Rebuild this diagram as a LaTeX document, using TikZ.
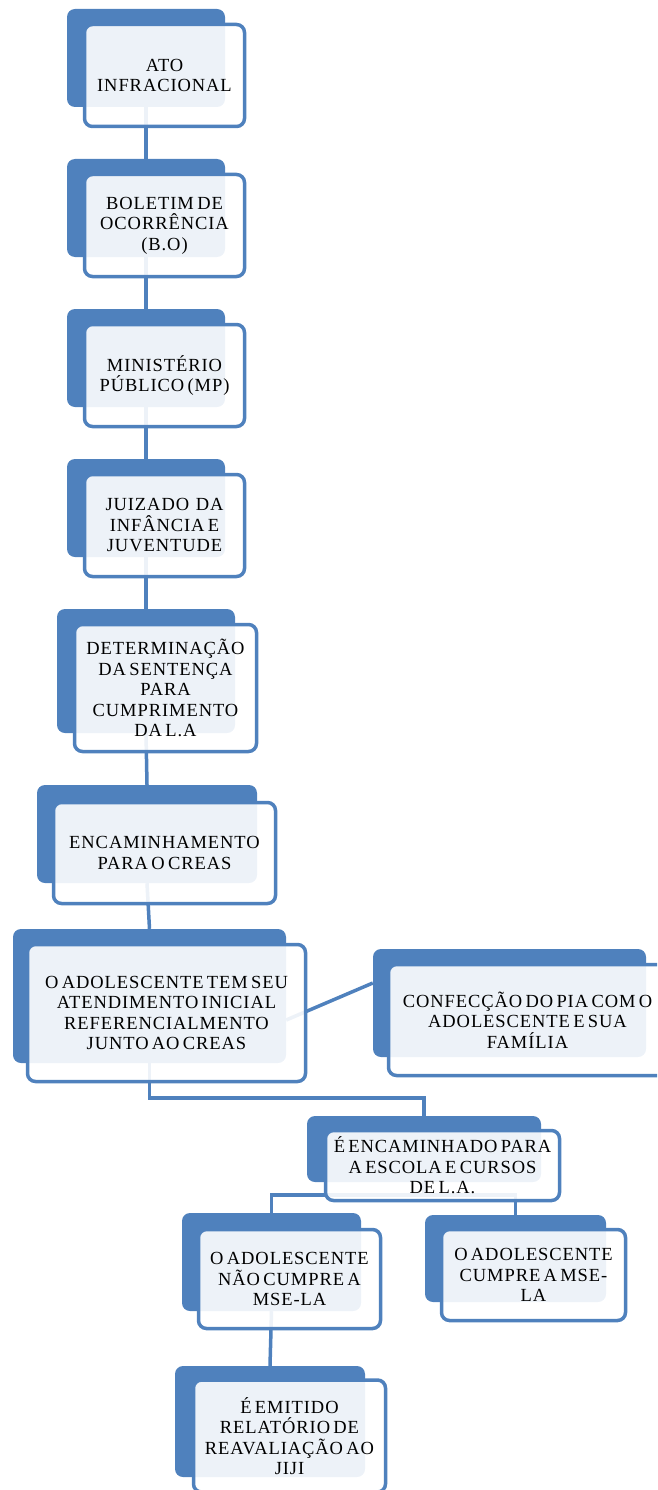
\documentclass[tikz,border=0pt]{standalone}
\usepackage{fontspec}
\setmainfont{Liberation Serif}[LetterSpace=5,WordSpace=0.6]
\usepackage{tikz}
\usetikzlibrary{positioning}
\definecolor{smartblue}{HTML}{4F81BD}

\begin{document}
\begin{tikzpicture}[
  x=1pt, y=-1pt,
  back/.style={fill=smartblue, rounded corners=8pt, inner sep=0pt},
  front/.style={draw=smartblue, line width=3.5pt, fill=white, fill opacity=0.9, text opacity=1, rounded corners=8pt, inner sep=0pt, align=center, font=\fontsize{18.5}{20.5}\selectfont},
  link/.style={draw=smartblue, line width=3.5pt}
]
  \useasboundingbox (0,0) rectangle (657,1490);
  \clip (0,0) rectangle (657,1490);

  % back boxes
  \node[back, minimum width=158pt, minimum height=98pt] (atobg) at (146,58) {};
  \node[back, minimum width=158pt, minimum height=98pt] (bobg) at (146,208) {};
  \node[back, minimum width=158pt, minimum height=98pt] (mpbg) at (146,358) {};
  \node[back, minimum width=158pt, minimum height=98pt] (juizbg) at (146,508) {};
  \node[back, minimum width=178pt, minimum height=124pt] (sentbg) at (146,671) {};
  \node[back, minimum width=220pt, minimum height=98pt] (creasbg) at (147,834) {};
  \node[back, minimum width=273pt, minimum height=134pt] (adolbg) at (149.5,996) {};
  \node[back, minimum width=273pt, minimum height=108pt] (piabg) at (509.5,1003) {};
  \node[back, minimum width=234pt, minimum height=66pt] (escbg) at (424,1149) {};
  \node[back, minimum width=179pt, minimum height=98pt] (naobg) at (271.5,1262) {};
  \node[back, minimum width=181pt, minimum height=87pt] (cumprebg) at (515.5,1258.5) {};
  \node[back, minimum width=190pt, minimum height=111pt] (relbg) at (270,1421.5) {};

  % connectors
  \draw[link] (atobg.south) -- (bobg.north);
  \draw[link] (bobg.south) -- (mpbg.north);
  \draw[link] (mpbg.south) -- (juizbg.north);
  \draw[link] (juizbg.south) -- (sentbg.north);
  \draw[link] (sentbg.south) -- (creasbg.north);
  \draw[link] (creasbg.south) -- (adolbg.north);
  \draw[link] ([yshift=-24pt]adolbg.east) -- ([yshift=20pt]piabg.west);
  \draw[link] (adolbg.south) -- ++(0,35) -| (escbg.north);
  \draw[link] (escbg.south) -- ++(0,13) -| (naobg.north);
  \draw[link] (escbg.south) -- ++(0,13) -| (cumprebg.north);
  \draw[link] (naobg.south) -- (relbg.north);

  % front boxes
  \node[front, minimum width=160pt, minimum height=102pt] (ato) at (164.5,75.5) {ATO\\INFRACIONAL};
  \node[front, minimum width=160pt, minimum height=102pt] (bo) at (164.5,225.5) {BOLETIM DE\\OCORRÊNCIA\\(B.O)};
  \node[front, minimum width=160pt, minimum height=102pt] (mp) at (164.5,375.5) {MINISTÉRIO\\PÚBLICO (MP)};
  \node[front, minimum width=160pt, minimum height=102pt] (juiz) at (164.5,525.5) {JUIZADO~~DA\\INFÂNCIA E\\JUVENTUDE};
  \node[front, minimum width=182pt, minimum height=127pt] (sent) at (165.5,688) {DETERMINAÇÃO\\DA SENTENÇA\\PARA\\CUMPRIMENTO\\DA L.A};
  \node[front, minimum width=222pt, minimum height=101pt] (creas) at (164.5,853) {ENCAMINHAMENTO\\PARA O CREAS};
  \node[front, minimum width=278pt, minimum height=137pt] (adol) at (166.5,1013) {O ADOLESCENTE TEM SEU\\ATENDIMENTO INICIAL\\REFERENCIALMENTO\\JUNTO AO CREAS};
  \node[front, minimum width=278pt, minimum height=111pt] (pia) at (527.5,1020) {CONFECÇÃO DO PIA COM O\\ADOLESCENTE E SUA\\FAMÍLIA};
  \node[front, minimum width=234pt, minimum height=70pt] (esc) at (442.5,1165.5) {É ENCAMINHADO PARA\\A ESCOLA E CURSOS\\DE L.A.};
  \node[front, minimum width=182pt, minimum height=99pt] (nao) at (289.5,1279) {O ADOLESCENTE\\NÃO CUMPRE A\\MSE-LA};
  \node[front, minimum width=184pt, minimum height=91pt] (cumpre) at (533.5,1275) {O ADOLESCENTE\\CUMPRE A MSE-\\LA};
  \node[front, minimum width=192pt, minimum height=112pt] (rel) at (289.5,1436) {É EMITIDO\\RELATÓRIO DE\\REAVALIAÇÃO AO\\JIJI};
\end{tikzpicture}
\end{document}
